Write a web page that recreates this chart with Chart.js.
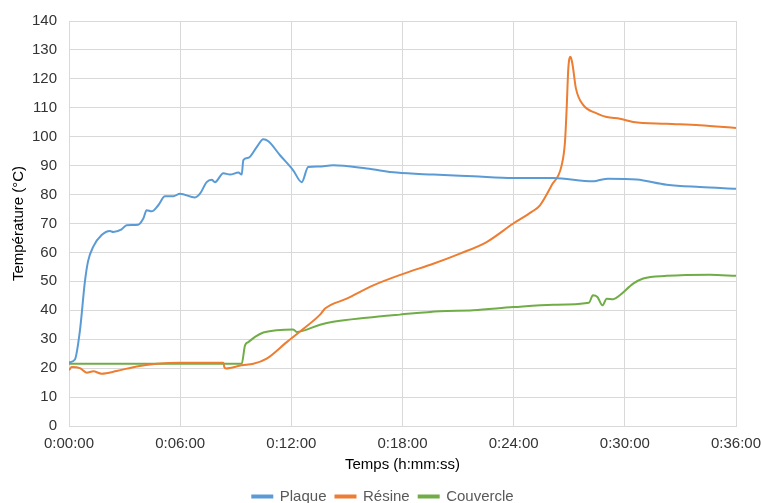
<!DOCTYPE html>
<html>
<head>
<meta charset="utf-8">
<script src="https://cdn.jsdelivr.net/npm/chart.js@4.4.0/dist/chart.umd.min.js"></script>
<style>
  html, body { margin: 0; padding: 0; background: #fff; overflow: hidden; }
  #wrap { width: 761px; height: 514px; }
</style>
</head>
<body>
<div id="wrap"><canvas id="myChart"></canvas></div>
<script>
// temps en minutes, valeurs en °C
const plaqueTimes = [0, 0.32, 0.59, 0.86, 1.03, 1.31, 1.76, 2.21, 2.39, 2.84, 3.11, 3.74, 4.01, 4.19, 4.46, 4.82, 5.18, 5.63, 5.99, 6.8, 7.07, 7.43, 7.7, 7.88, 8.33, 8.69, 9.14, 9.32, 9.41, 9.68, 10.13, 10.49, 10.76, 11.39, 12.1, 12.56, 12.91, 13.45, 14.26, 16.07, 17.68, 19.66, 21.82, 23.98, 26.14, 28.29, 28.5, 29.1, 30.64, 32.26, 34.05, 36];
const plaqueValues = [22, 23, 33, 50, 57, 62, 66, 67.4, 67.1, 68, 69.4, 69.6, 71.7, 74.6, 74.2, 76.3, 79.4, 79.4, 80.3, 79, 80.3, 84.3, 85.1, 84.3, 87.4, 86.9, 87.6, 86.9, 91.9, 92.7, 96.4, 99.1, 98.4, 93.6, 88.4, 84.3, 89.5, 89.7, 90.1, 89, 87.6, 86.9, 86.3, 85.7, 85.7, 84.6, 84.8, 85.5, 85.2, 83.4, 82.6, 82];

const resineTimes = [0, 0.15, 0.59, 0.96, 1.31, 1.76, 2.57, 3.65, 4.73, 5.99, 8.33, 8.39, 8.47, 9.32, 9.95, 10.67, 11.75, 12.47, 13.55, 13.82, 14.99, 16.42, 18.04, 19.66, 21.1, 22.54, 23.98, 24.97, 25.42, 26.05, 26.59, 26.77, 26.86, 26.95, 27.07, 27.18, 27.36, 27.75, 28.48, 29.02, 29.73, 30.45, 32.26, 34.05, 36];
const resineValues = [19.3, 20.4, 20, 18.4, 18.9, 18.1, 19, 20.6, 21.5, 21.9, 21.9, 20.2, 19.9, 21, 21.5, 23.3, 29, 32.7, 38.5, 40.6, 44, 48.6, 52.6, 56.1, 59.6, 63.6, 70, 74, 76.3, 83.2, 90.1, 98.2, 109.7, 123.6, 127.6, 124.8, 116.7, 111, 108.1, 106.8, 106.2, 105.1, 104.5, 104, 103];

const couvercleTimes = [0, 9.32, 9.5, 9.68, 10.04, 10.49, 11.21, 12.1, 12.29, 13.55, 14.26, 16.07, 17.86, 20.02, 21.82, 23.98, 26.14, 28.06, 28.28, 28.52, 28.79, 29.02, 29.38, 29.73, 30.45, 30.99, 32.26, 34.59, 36];
const couvercleValues = [21.5, 21.5, 27.9, 29, 30.8, 32.3, 33.1, 33.4, 32.5, 35, 36, 37.4, 38.5, 39.7, 40, 41.1, 41.9, 42.6, 45.2, 44.6, 41.7, 44, 43.8, 45.2, 49.2, 51, 51.9, 52.3, 51.9];

const seriesLabels = ['Plaque', 'Résine', 'Couvercle'];
const seriesColors = ['#5B9BD5', '#ED7D31', '#70AD47'];

function toPoints(times, values) {
    return times.map((t, i) => ({ x: t, y: values[i] }));
}

function formatTime(min) {
    const total = Math.round(min * 60);
    const h = Math.floor(total / 3600);
    const m = Math.floor((total % 3600) / 60);
    const s = total % 60;
    return h + ':' + String(m).padStart(2, '0') + ':' + String(s).padStart(2, '0');
}

const allData = [
    toPoints(plaqueTimes, plaqueValues),
    toPoints(resineTimes, resineValues),
    toPoints(couvercleTimes, couvercleValues)
];

Chart.defaults.font.family = '"Liberation Sans", Arial, sans-serif';
Chart.defaults.color = '#333';

const data = {
    datasets: seriesLabels.map((label, i) => ({
        label: label,
        data: allData[i],
        borderColor: seriesColors[i],
        backgroundColor: seriesColors[i],
        borderWidth: 2,
        pointRadius: 0,
        cubicInterpolationMode: 'monotone'
    }))
};

// décale la légende pour la centrer comme dans Excel
const shiftLegend = {
    id: 'shiftLegend',
    afterLayout(chart) {
        chart.legend.left += 10;
        chart.legend.right += 10;
    }
};

const config = {
    type: 'line',
    data: data,
    plugins: [shiftLegend],
    options: {
        responsive: true,
        maintainAspectRatio: false,
        animation: false,
        layout: { padding: { left: 10, right: 25, top: 16, bottom: 0 } },
        plugins: {
            legend: {
                position: 'bottom',
                labels: {
                    boxWidth: 20,
                    boxHeight: 2,
                    padding: 9,
                    font: { size: 15 },
                    color: '#595959'
                }
            },
            tooltip: { enabled: false }
        },
        scales: {
            x: {
                type: 'linear',
                min: 0,
                max: 36,
                afterFit: (scale) => {
                    scale.height = 54;
                    scale.paddingLeft = 0;
                    scale.paddingRight = 0;
                },
                ticks: {
                    stepSize: 6,
                    font: { size: 15 },
                    color: '#333',
                    padding: 9,
                    maxRotation: 0,
                    callback: (v) => formatTime(v)
                },
                grid: { color: '#d9d9d9', drawTicks: false },
                border: { color: '#d9d9d9' },
                title: {
                    display: true,
                    text: 'Temps (h:mm:ss)',
                    font: { size: 15 },
                    color: '#000',
                    padding: { top: 4, bottom: 6 }
                }
            },
            y: {
                min: 0,
                max: 140,
                afterFit: (scale) => { scale.width = 59; },
                ticks: {
                    stepSize: 10,
                    font: { size: 15 },
                    color: '#333',
                    padding: 12
                },
                grid: { color: '#d9d9d9', drawTicks: false },
                border: { color: '#d9d9d9' },
                title: {
                    display: true,
                    text: 'Température (°C)',
                    font: { size: 15 },
                    color: '#000',
                    padding: { top: 0, bottom: 6 }
                }
            }
        }
    }
};

new Chart(document.getElementById('myChart'), config);
</script>
</body>
</html>
